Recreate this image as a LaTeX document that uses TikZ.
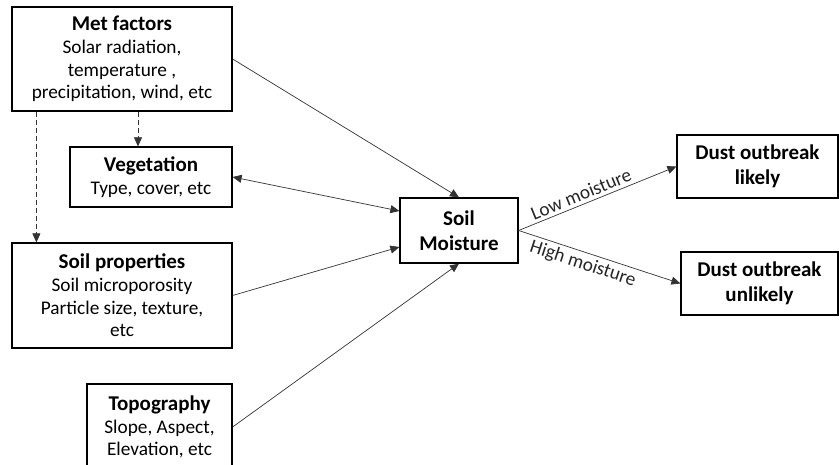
\documentclass[tikz,border=0pt]{standalone}
\usepackage{fontspec}
\setmainfont{Carlito}
\usetikzlibrary{arrows.meta, positioning}

\newcommand\hd[1]{{\fontsize{21}{23}\selectfont\bfseries #1}}

\begin{document}
\begin{tikzpicture}[
    x=1pt, y=-1pt,
    >={Triangle[length=9pt, width=8pt]},
    on grid,
    box/.style={draw, line width=1.2pt, align=center, inner sep=0pt,
        font=\fontsize{19.3}{22.6}\selectfont},
    titlebox/.style={box, font=\fontsize{21}{25}\selectfont\bfseries},
    link/.style={->, draw=black!80, line width=0.7pt},
    dashlink/.style={link, dash pattern=on 5pt off 3pt},
    lbl/.style={sloped, font=\fontsize{19.3}{22}\selectfont, text=black!85},
]
    \clip (0,0) rectangle (839,465);

    \node[box, minimum width=220pt, minimum height=104pt] (met) at (122,59)
        {\hd{Met factors}\\Solar radiation,\\temperature ,\\precipitation, wind, etc};
    \node[box, minimum width=162pt, minimum height=60pt,
          below right=118pt and 29pt of met] (veg)
        {\hd{Vegetation}\\Type, cover, etc};
    \node[box, minimum width=220pt, minimum height=105pt,
          below=236.5pt of met] (soilp)
        {\hd{Soil properties}\\Soil microporosity\\Particle size, texture,\\etc};
    \node[box, minimum width=145pt, minimum height=86pt,
          below right=131.5pt and 37.5pt of soilp] (topo)
        {\hd{Topography}\\Slope, Aspect,\\Elevation, etc};

    \node[titlebox, minimum width=118pt, minimum height=65pt] (moist) at (459,230.5)
        {Soil\\Moisture};
    \node[titlebox, minimum width=161pt, minimum height=63pt,
          above right=64pt and 298.5pt of moist] (likely)
        {Dust outbreak\\likely};
    \node[titlebox, minimum width=157pt, minimum height=63pt,
          below right=53pt and 300.5pt of moist] (unlikely)
        {Dust outbreak\\unlikely};

    % dashed influences of the met factors
    \coordinate (mv) at ([xshift=16pt]met.south);
    \coordinate (ms) at ([xshift=25pt]met.south west);
    \draw[dashlink] (mv) -- (mv |- veg.north);
    \draw[dashlink] (ms) -- (ms |- soilp.north);

    \draw[link] (met.east) -- (moist.north);
    \draw[link, <->] (veg.east) -- ([yshift=19.5pt]moist.west);
    \draw[link] (soilp.east) -- ([yshift=-16.5pt]moist.west);
    \draw[link] (topo.east) -- (moist.south);

    \draw[link] (moist.east) -- node[lbl, above, pos=0.42] {Low moisture} (likely.west);
    \draw[link] (moist.east) -- node[lbl, below, pos=0.42] {High moisture} (unlikely.west);
\end{tikzpicture}
\end{document}
